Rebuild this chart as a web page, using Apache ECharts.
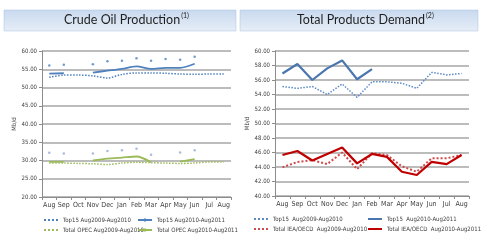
<!DOCTYPE html>
<html><head><meta charset="utf-8">
<script src="https://cdn.jsdelivr.net/npm/echarts@6/dist/echarts.min.js"></script>
<style>html,body{margin:0;padding:0;background:#fff}#c{width:481px;height:245px}</style>
</head><body><div id="c"></div>
<script>
const months = ['Aug','Sep','Oct','Nov','Dec','Jan','Feb','Mar','Apr','May','Jun','Jul','Aug'];
const crudeTicks = [20,25,30,35,40,45,50,55,60];
const demandTicks = [40,42,44,46,48,50,52,54,56,58,60];

const crudeTop15_0910 = [52.8,53.4,53.4,53.2,52.6,53.6,54.0,54.0,53.9,53.7,53.6,53.7,53.7];
const crudeTop15_1011 = [53.8,53.9,null,54.1,54.6,55.1,55.8,55.1,55.4,55.4,56.5,null,null];
const crudeTop15Marks = [56.0,56.2,null,56.4,57.2,57.3,58.0,57.3,57.8,57.6,58.4,null,null];
const crudeOpec_0910 = [29.3,29.3,29.2,29.1,28.9,29.3,29.5,29.4,29.3,29.2,29.3,29.6,29.6];
const crudeOpec_1011 = [29.6,29.6,null,30.0,30.5,30.8,31.1,29.5,null,29.7,30.4,null,null];
const crudeOpecMarks = [32.1,31.9,null,31.9,32.6,32.8,33.2,31.6,null,32.2,32.8,null,null];

const demandTop15_0910 = [55.1,54.85,55.1,54.0,55.45,53.6,55.75,55.75,55.55,54.85,57.05,56.7,56.9];
const demandTop15_1011 = [56.9,58.2,56.0,57.6,58.7,56.1,57.5,null,null,null,null,null,null];
const demandOecd_0910 = [43.95,44.7,44.95,44.4,46.0,43.7,45.9,45.65,44.1,43.35,45.2,45.2,45.65];
const demandOecd_1011 = [45.65,46.2,44.9,45.8,46.7,44.5,45.8,45.4,43.35,42.9,44.7,44.4,45.65];

const names = {
  c1:'Top15 Aug2009-Aug2010', c2:'Top15 Aug2010-Aug2011',
  c3:'Total OPEC Aug2009-Aug2010', c4:'Total OPEC Aug2010-Aug2011',
  d1:'Top15  Aug2009-Aug2010 ', d2:'Top15  Aug2010-Aug2011 ',
  d3:'Total IEA/OECD  Aug2009-Aug2010', d4:'Total IEA/OECD  Aug2010-Aug2011'
};

const FONT = '"Liberation Sans Narrow","DejaVu Sans Condensed","Liberation Sans",sans-serif';
const chart = echarts.init(document.getElementById('c'));

function xAxis(gi){
  return {type:'category', gridIndex:gi, data:months, boundaryGap:true,
    axisLine:{lineStyle:{color:'#8c8c8c',width:1}},
    axisTick:{show:true,length:3,lineStyle:{color:'#8c8c8c'}},
    axisLabel:{fontSize:7,color:'#404040',fontFamily:FONT,margin:5,interval:0}};
}
function yAxis(gi,ticks){
  return {type:'value', gridIndex:gi, min:ticks[0], max:ticks[ticks.length-1], interval:ticks[1]-ticks[0],
    name:'Mb/d', nameLocation:'middle', nameRotate:90, nameGap:gi===0?25:24,
    nameTextStyle:{fontSize:6,color:'#404040',fontFamily:FONT},
    axisLine:{show:true,lineStyle:{color:'#8c8c8c'}},
    axisTick:{show:true,length:3,lineStyle:{color:'#8c8c8c'}},
    splitLine:{lineStyle:{color:'#a6a6a6',width:1.5}},
    axisLabel:{fontSize:6,color:'#404040',fontFamily:FONT,margin:5,formatter:v=>v.toFixed(2)}};
}
function leg(name,left,top,marker){
  const l = {data:[name],left:left,top:top,itemWidth:14,itemHeight:5,padding:0,
    textStyle:{fontSize:6,color:'#404040',fontFamily:FONT}};
  if(!marker) l.itemStyle = {opacity:0};
  return l;
}
function line(name,gi,data,color,width,type,smooth,sym){
  return {name:name,type:'line',xAxisIndex:gi,yAxisIndex:gi,data:data,
    smooth:smooth,symbol:sym||'none',symbolSize:4,showSymbol:false,
    connectNulls:false,itemStyle:{color:color},
    lineStyle:{color:color,width:width,type:type},z:3};
}
function dots(gi,data,color){
  return {type:'scatter',xAxisIndex:gi,yAxisIndex:gi,data:data,symbolSize:2.5,
    itemStyle:{color:color},z:4};
}

chart.setOption({
  animation:false,
  textStyle:{fontFamily:FONT},
  grid:[
    {left:42,right:250,top:51,bottom:48,containLabel:false},
    {left:275,right:12,top:51,bottom:49,containLabel:false}
  ],
  xAxis:[xAxis(0),xAxis(1)],
  yAxis:[yAxis(0,crudeTicks),yAxis(1,demandTicks)],
  legend:[
    leg(names.c1,43,217,false),leg(names.c2,137,217,true),leg(names.c3,43,227,false),leg(names.c4,137,227,true),
    leg(names.d1,253,216,false),leg(names.d2,367,216,false),leg(names.d3,253,226,false),leg(names.d4,367,226,false)
  ],
  graphic:[
    {type:'rect',shape:{x:4,y:10,width:232,height:21},style:{fill:new echarts.graphic.LinearGradient(0,0,0,1,[{offset:0,color:'#c9d9ee'},{offset:1,color:'#e6eef8'}]),stroke:'#a9c0e0',lineWidth:0.5},z:0},
    {type:'rect',shape:{x:240,y:10,width:238,height:21},style:{fill:new echarts.graphic.LinearGradient(0,0,0,1,[{offset:0,color:'#c9d9ee'},{offset:1,color:'#e6eef8'}]),stroke:'#a9c0e0',lineWidth:0.5},z:0},
    {type:'text',left:64,top:12,z:5,style:{text:'{t|Crude Oil Production}{s|(1)}',rich:{t:{fontSize:12.5,fontFamily:'Lato, "Open Sans", sans-serif',fill:'#1f1f1f'},s:{fontSize:7,fontFamily:'Lato, sans-serif',fill:'#1f1f1f',verticalAlign:'top',padding:[0,0,8,1]}}}},
    {type:'text',left:297,top:12,z:5,style:{text:'{t|Total Products Demand}{s|(2)}',rich:{t:{fontSize:12.5,fontFamily:'Lato, "Open Sans", sans-serif',fill:'#1f1f1f'},s:{fontSize:7,fontFamily:'Lato, sans-serif',fill:'#1f1f1f',verticalAlign:'top',padding:[0,0,8,1]}}}}
  ],
  series:[
    line(names.c1,0,crudeTop15_0910,'#4f81bd',1.5,'dotted',0.3),
    line(names.c2,0,crudeTop15_1011,'#4f81bd',1.8,'solid',0.3,'diamond'),
    dots(0,crudeTop15Marks,'#4f81bd'),
    line(names.c3,0,crudeOpec_0910,'#9bbb59',1.5,'dotted',0.3),
    line(names.c4,0,crudeOpec_1011,'#9bbb59',1.8,'solid',0.3,'diamond'),
    dots(0,crudeOpecMarks,'#95a9d6'),
    line(names.d1,1,demandTop15_0910,'#5b8ac6',1.5,'dotted',false),
    line(names.d2,1,demandTop15_1011,'#4a76b0',2.2,'solid',false),
    line(names.d3,1,demandOecd_0910,'#d0494b',2,'dotted',false),
    line(names.d4,1,demandOecd_1011,'#c00000',2.2,'solid',false)
  ]
});
</script></body></html>
